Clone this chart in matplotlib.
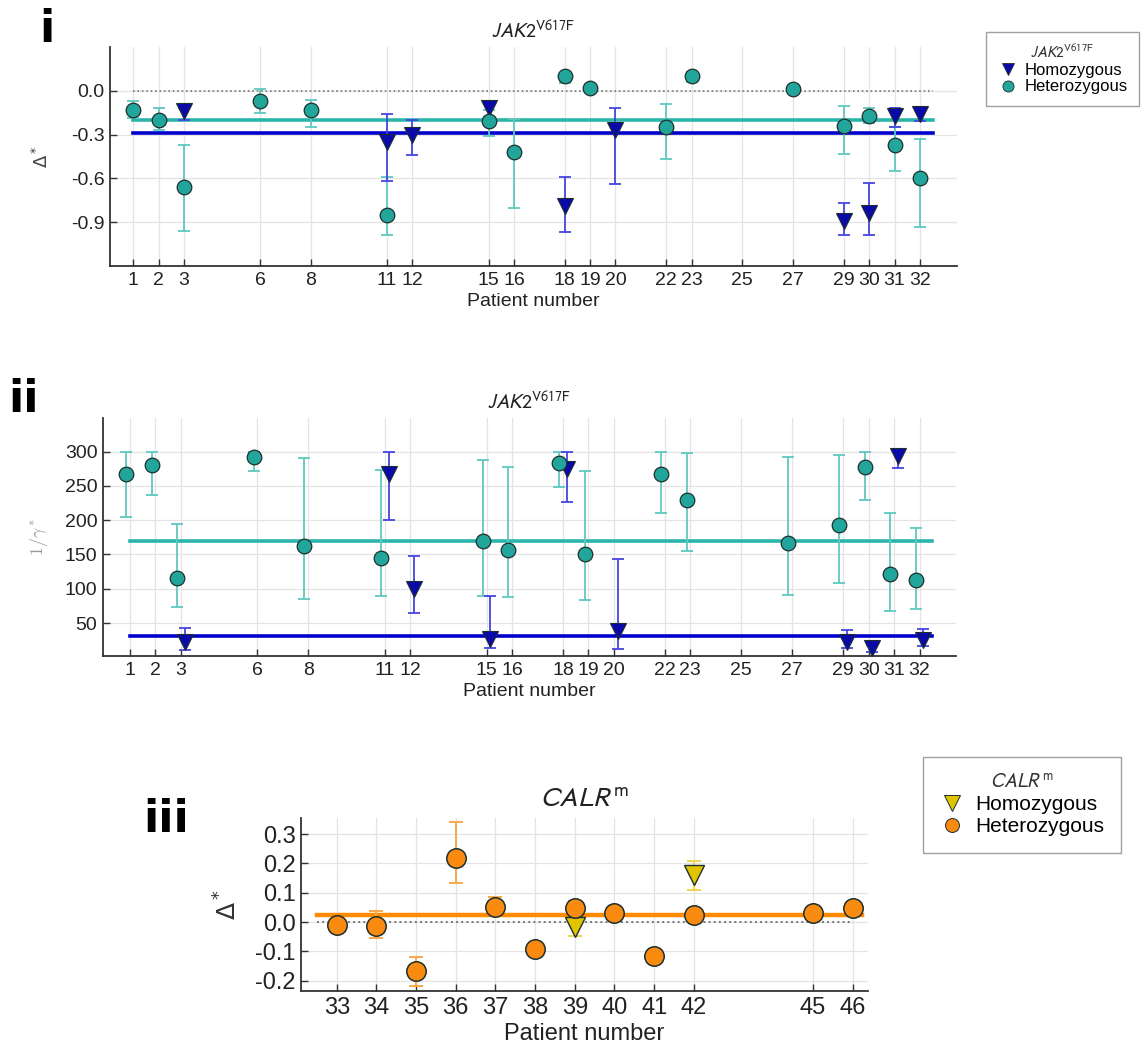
import numpy as np
import matplotlib
matplotlib.use("Agg")
import matplotlib.pyplot as plt
from matplotlib.lines import Line2D

plt.rcParams['font.family'] = ['Liberation Sans', 'DejaVu Sans']
plt.rcParams['mathtext.fontset'] = 'stixsans'
plt.rcParams['axes.unicode_minus'] = False

# ---------------- data ----------------
jak_ticks = [1, 2, 3, 6, 8, 11, 12, 15, 16, 18, 19, 20, 22, 23, 25, 27, 29, 30, 31, 32]

het_patients = [1, 2, 3, 6, 8, 11, 15, 16, 18, 19, 22, 23, 27, 29, 30, 31, 32]
het_delta = [-0.13, -0.20, -0.66, -0.07, -0.13, -0.85, -0.21, -0.42, 0.10, 0.02, -0.25, 0.10, 0.01, -0.24, -0.17, -0.37, -0.60]
het_delta_hi = [-0.07, -0.12, -0.37, 0.01, -0.06, -0.59, -0.13, -0.19, 0.125, 0.04, -0.09, 0.13, 0.025, -0.105, -0.12, -0.25, -0.33]
het_delta_lo = [-0.185, -0.27, -0.96, -0.15, -0.25, -0.99, -0.31, -0.80, 0.055, 0.0, -0.47, 0.06, -0.005, -0.43, -0.22, -0.55, -0.93]

hom_patients = [3, 11, 12, 15, 18, 20, 29, 30, 31, 32]
hom_delta = [-0.14, -0.35, -0.30, -0.12, -0.79, -0.27, -0.89, -0.84, -0.17, -0.16]
hom_delta_hi = [-0.12, -0.16, -0.20, -0.07, -0.59, -0.12, -0.77, -0.63, -0.115, -0.13]
hom_delta_lo = [-0.20, -0.62, -0.44, -0.18, -0.97, -0.64, -0.99, -0.99, -0.25, -0.21]

het_gamma = [267, 280, 115, 292, 162, 145, 170, 157, 284, 151, 268, 230, 167, 193, 277, 122, 113]
het_gamma_hi = [300, 300, 195, 300, 290, 273, 288, 278, 300, 271, 300, 298, 292, 295, 300, 210, 189]
het_gamma_lo = [204, 237, 73, 271, 85, 90, 89, 88, 249, 83, 211, 155, 91, 109, 229, 68, 70]

hom_gamma = [23, 267, 100, 27, 274, 38, 23, 13, 294, 26]
hom_gamma_hi = [43, 300, 148, 90, 300, 143, 40, 18, 300, 41]
hom_gamma_lo = [11, 200, 64, 13, 227, 12, 14, 8, 276, 16]

het_delta_mean = -0.20
hom_delta_mean = -0.29
het_gamma_mean = 170
hom_gamma_mean = 31

calr_ticks = [33, 34, 35, 36, 37, 38, 39, 40, 41, 42, 45, 46]
calr_het_patients = [33, 34, 35, 36, 37, 38, 39, 40, 41, 42, 45, 46]
calr_het = [-0.010, -0.013, -0.167, 0.217, 0.053, -0.091, 0.047, 0.031, -0.114, 0.023, 0.030, 0.047]
calr_het_hi = [-0.005, 0.037, -0.119, 0.342, 0.086, -0.085, 0.072, 0.035, -0.110, 0.027, 0.034, 0.050]
calr_het_lo = [-0.015, -0.053, -0.219, 0.132, 0.030, -0.097, 0.030, 0.027, -0.118, 0.019, 0.026, 0.044]
calr_hom_patients = [39, 42]
calr_hom = [-0.018, 0.161]
calr_hom_hi = [0.0, 0.209]
calr_hom_lo = [-0.047, 0.108]
calr_het_mean = 0.025

# ---------------- style ----------------
TEAL = '#22A69B'
TEAL_LINE = '#2BB5AA'
TEAL_ERR = '#5FC9BF'
BLUE = '#0A0AA8'
BLUE_LINE = '#0000CC'
BLUE_ERR = '#4545E0'
ORANGE = '#F98C10'
ORANGE_ERR = '#F5A94A'
YELLOW = '#E0C400'
YELLOW_ERR = '#EDD650'
EDGE = '#1E2E2E'

W, H = 1147, 1048
fig = plt.figure(figsize=(W / 100, H / 100), dpi=100)


def box(l, t, r, b):
    return [l / W, 1 - b / H, (r - l) / W, (b - t) / H]


def style_axes(ax, fs):
    for s in ['top', 'right']:
        ax.spines[s].set_visible(False)
    for s in ['left', 'bottom']:
        ax.spines[s].set_color('#333333')
        ax.spines[s].set_linewidth(1.3)
    ax.tick_params(direction='in', length=5, width=1.0, color='#333333',
                   labelsize=fs, labelcolor='#222222', pad=4)
    ax.grid(True, color='#e4e4e4', linewidth=0.9)
    ax.set_axisbelow(True)


def errs(y, hi, lo):
    y = np.asarray(y, float)
    return [np.clip(y - np.asarray(lo, float), 0, None), np.clip(np.asarray(hi, float) - y, 0, None)]


JAK_TITLE = r'$\mathit{JAK2}^{\mathrm{V617F}}$'
CALR_TITLE = r'$\mathit{CALR}^{\mathrm{m}}$'


def jak_title(ax):
    ax.set_title(JAK_TITLE, fontsize=14.5, pad=6, color='#222222')


# ---------------- panel i ----------------
ax1 = fig.add_axes(box(110, 47, 957, 266))
style_axes(ax1, 14)
ax1.plot([1, 32.5], [0, 0], ls=':', color='#777777', lw=1.2, zorder=1)
ax1.plot([1, 32.5], [het_delta_mean] * 2, color=TEAL_LINE, lw=2.6, zorder=2)
ax1.plot([1, 32.5], [hom_delta_mean] * 2, color=BLUE_LINE, lw=2.6, zorder=2)
ax1.errorbar(het_patients, het_delta, yerr=errs(het_delta, het_delta_hi, het_delta_lo), fmt='none',
             ecolor=TEAL_ERR, elinewidth=1.3, capsize=4, capthick=1.3, zorder=3)
ax1.errorbar(hom_patients, hom_delta, yerr=errs(hom_delta, hom_delta_hi, hom_delta_lo), fmt='none',
             ecolor=BLUE_ERR, elinewidth=1.3, capsize=4, capthick=1.3, zorder=3)
ax1.plot(hom_patients, hom_delta, 'v', ms=11.5, mfc=BLUE, mec=EDGE, mew=0.8, zorder=4)
ax1.plot(het_patients, het_delta, 'o', ms=10.5, mfc=TEAL, mec=EDGE, mew=0.9, zorder=5)
ax1.set_xlim(0.08, 33.46)
ax1.set_ylim(-1.2, 0.3)
ax1.set_xticks(jak_ticks)
ax1.set_xticklabels([str(t) for t in jak_ticks])
ax1.set_yticks([0.0, -0.3, -0.6, -0.9])
ax1.set_yticklabels(['0.0', '-0.3', '-0.6', '-0.9'])
ax1.set_xlabel('Patient number', fontsize=14, color='#222222', labelpad=3)
ax1.set_ylabel(r'$\Delta^*$', fontsize=13, color='#444444', math_fontfamily='dejavusans')
ax1.yaxis.set_label_coords(-0.068, 0.5)
jak_title(ax1)

# ---------------- panel ii ----------------
ax2 = fig.add_axes(box(103, 418, 956, 656))
style_axes(ax2, 14)
ax2.plot([1, 32.5], [het_gamma_mean] * 2, color=TEAL_LINE, lw=2.6, zorder=2)
ax2.plot([1, 32.5], [hom_gamma_mean] * 2, color=BLUE_LINE, lw=2.6, zorder=2)
het_x2 = np.asarray(het_patients, float) - 0.15
hom_x2 = np.asarray(hom_patients, float) + 0.15
ax2.errorbar(het_x2, het_gamma, yerr=errs(het_gamma, het_gamma_hi, het_gamma_lo), fmt='none',
             ecolor=TEAL_ERR, elinewidth=1.3, capsize=4, capthick=1.3, zorder=3)
ax2.errorbar(hom_x2, hom_gamma, yerr=errs(hom_gamma, hom_gamma_hi, hom_gamma_lo), fmt='none',
             ecolor=BLUE_ERR, elinewidth=1.3, capsize=4, capthick=1.3, zorder=3)
ax2.plot(hom_x2, hom_gamma, 'v', ms=11.5, mfc=BLUE, mec=EDGE, mew=0.8, zorder=4)
ax2.plot(het_x2, het_gamma, 'o', ms=10.5, mfc=TEAL, mec=EDGE, mew=0.9, zorder=5)
ax2.set_xlim(-0.06, 33.43)
ax2.set_ylim(2, 349)
ax2.set_xticks(jak_ticks)
ax2.set_xticklabels([str(t) for t in jak_ticks])
ax2.set_yticks([50, 100, 150, 200, 250, 300])
ax2.set_xlabel('Patient number', fontsize=14, color='#222222', labelpad=3)
ax2.set_ylabel(r'$1/\gamma^*$', fontsize=13, color='#999999', math_fontfamily='cm')
ax2.yaxis.set_label_coords(-0.062, 0.5)
jak_title(ax2)

# ---------------- panel iii ----------------
ax3 = fig.add_axes(box(301, 818, 868, 991))
style_axes(ax3, 17)
ax3.plot([32.5, 46.0], [0, 0], ls=':', color='#777777', lw=1.4, zorder=1)
ax3.plot([32.5, 46.25], [calr_het_mean] * 2, color='#FF8C00', lw=3.2, zorder=2)
ax3.errorbar(calr_het_patients, calr_het, yerr=errs(calr_het, calr_het_hi, calr_het_lo), fmt='none',
             ecolor=ORANGE_ERR, elinewidth=1.4, capsize=5, capthick=1.4, zorder=3)
ax3.errorbar(calr_hom_patients, calr_hom, yerr=errs(calr_hom, calr_hom_hi, calr_hom_lo), fmt='none',
             ecolor=YELLOW_ERR, elinewidth=1.4, capsize=5, capthick=1.4, zorder=3)
ax3.plot(calr_hom_patients, calr_hom, 'v', ms=14, mfc=YELLOW, mec=EDGE, mew=1.0, zorder=4)
ax3.plot(calr_het_patients, calr_het, 'o', ms=14, mfc=ORANGE, mec=EDGE, mew=1.1, zorder=5)
ax3.set_xlim(32.1, 46.39)
ax3.set_ylim(-0.235, 0.355)
ax3.set_xticks(calr_ticks)
ax3.set_xticklabels([str(t) for t in calr_ticks])
ax3.set_yticks([0.3, 0.2, 0.1, 0.0, -0.1, -0.2])
ax3.set_yticklabels(['0.3', '0.2', '0.1', '0.0', '-0.1', '-0.2'])
ax3.set_xlabel('Patient number', fontsize=17, color='#222222', labelpad=3)
ax3.set_ylabel(r'$\Delta^*$', fontsize=18, color='#333333', math_fontfamily='dejavusans')
ax3.yaxis.set_label_coords(-0.104, 0.5)
ax3.set_title(CALR_TITLE, fontsize=20, pad=8, color='#222222')

# ---------------- legends ----------------
h_hom = Line2D([], [], ls='none', marker='v', ms=9, mfc=BLUE, mec=EDGE, mew=0.6)
h_het = Line2D([], [], ls='none', marker='o', ms=8, mfc=TEAL, mec=EDGE, mew=0.6)
leg1 = fig.legend([h_hom, h_het], ['Homozygous', 'Heterozygous'],
                  title=JAK_TITLE, title_fontsize=11, fontsize=12,
                  loc='upper left', bbox_to_anchor=(986 / W, 1 - 32 / H), frameon=True,
                  fancybox=False, edgecolor='#888888', handletextpad=0.4, handlelength=1.2,
                  borderpad=0.7, labelspacing=0.1, borderaxespad=0)
leg1.get_frame().set_linewidth(1.0)
leg1.get_title().set_color('#333333')

c_hom = Line2D([], [], ls='none', marker='v', ms=11, mfc=YELLOW, mec=EDGE, mew=0.7)
c_het = Line2D([], [], ls='none', marker='o', ms=10, mfc=ORANGE, mec=EDGE, mew=0.7)
leg3 = fig.legend([c_hom, c_het], ['Homozygous', 'Heterozygous'],
                  title=CALR_TITLE, title_fontsize=14, fontsize=15,
                  loc='upper left', bbox_to_anchor=(923 / W, 1 - 757 / H), frameon=True,
                  fancybox=False, edgecolor='#888888', handletextpad=0.5, handlelength=1.2,
                  borderpad=0.8, labelspacing=0.15, borderaxespad=0)
leg3.get_frame().set_linewidth(1.0)
leg3.get_title().set_color('#333333')

# ---------------- panel labels ----------------
fig.text(47 / W, 1 - 8 / H, 'i', fontsize=32, fontweight='heavy', ha='center', va='top',
         family=['DejaVu Sans'])
fig.text(8 / W, 1 - 378 / H, 'ii', fontsize=32, fontweight='heavy', ha='left', va='top',
         family=['DejaVu Sans'])
fig.text(143 / W, 1 - 798 / H, 'iii', fontsize=32, fontweight='heavy', ha='left', va='top',
         family=['DejaVu Sans'])

fig.savefig('out.png', dpi=100, facecolor='white')
